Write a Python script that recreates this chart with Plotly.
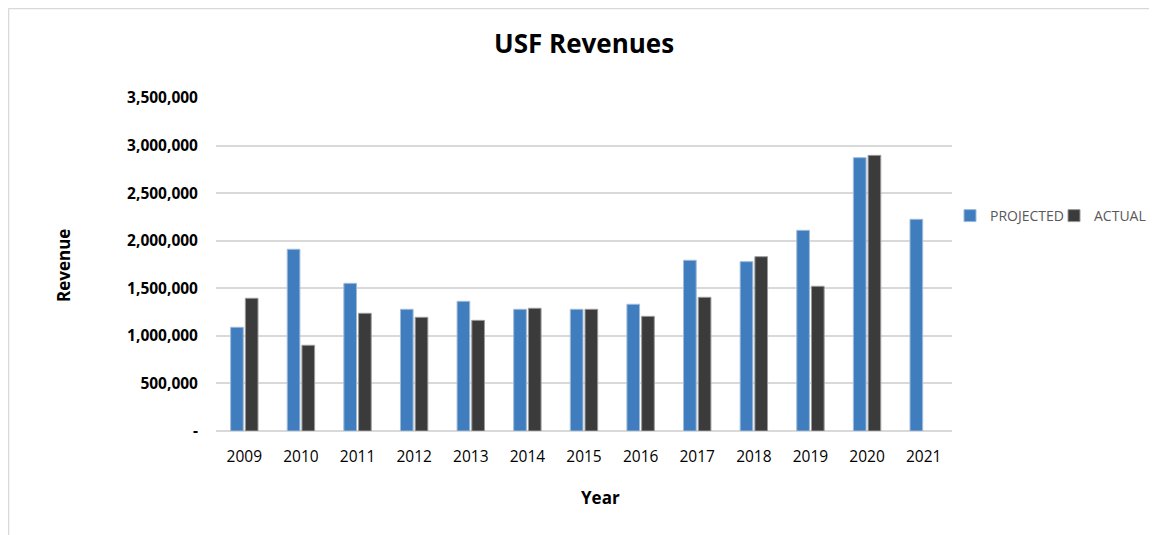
import plotly.graph_objects as go

years = ["2009", "2010", "2011", "2012", "2013", "2014", "2015", "2016", "2017", "2018", "2019", "2020", "2021"]
projected = [1090000, 1910000, 1552000, 1279000, 1363000, 1279000, 1279000, 1332000, 1794000, 1780000, 2109000, 2873000, 2225000]
actual = [1395000, 901000, 1237000, 1195000, 1163000, 1290000, 1279000, 1205000, 1405000, 1832000, 1521000, 2897000, None]

tick_vals = [0, 500000, 1000000, 1500000, 2000000, 2500000, 3000000, 3500000]
tick_text = ["-", "500,000", "1,000,000", "1,500,000", "2,000,000", "2,500,000", "3,000,000", "3,500,000"]

FONT = "Open Sans"

fig = go.Figure()
fig.add_trace(go.Bar(
    x=years, y=projected, name="PROJECTED",
    marker=dict(color="#3f7dbf", line=dict(color="#9fbbd8", width=1)),
))
fig.add_trace(go.Bar(
    x=years, y=actual, name="ACTUAL",
    marker=dict(color="#3b3b3b", line=dict(color="#9a9a9a", width=1)),
))

fig.update_layout(
    width=1149, height=527,
    margin=dict(l=208, r=205, t=90, b=104, autoexpand=False),
    paper_bgcolor="white", plot_bgcolor="white",
    barmode="group", bargap=0.48, bargroupgap=0.14,
    font=dict(family=FONT, color="#000000"),
    showlegend=True,
    legend=dict(orientation="h", x=0.9973, y=0.6456, xanchor="left", yanchor="middle",
                font=dict(size=14, color="#595959", family=FONT),
                itemwidth=30, entrywidth=59, entrywidthmode="pixels"),
    xaxis=dict(showgrid=False, showline=False, ticks="", tickfont=dict(size=15.5, color="#000000"),
               ticklabelstandoff=14),
    yaxis=dict(range=[0, 3500000], tickvals=tick_vals, ticktext=tick_text,
               showgrid=True, gridcolor="#d9d9d9", gridwidth=1.5,
               zeroline=True, zerolinecolor="#d9d9d9", zerolinewidth=1.5,
               tickfont=dict(size=15.5, color="#000000", family=FONT, weight="bold"),
               ticklabelstandoff=17),
    annotations=[
        dict(text="<b>USF Revenues</b>", xref="paper", yref="paper", x=0.5, y=1.165,
             showarrow=False, font=dict(size=26, color="#000000", family=FONT),
             xanchor="center", yanchor="middle"),
        dict(text="<b>Revenue</b>", xref="paper", yref="paper", x=-0.2065, y=0.4955,
             showarrow=False, textangle=-90, font=dict(size=17, color="#000000", family=FONT),
             xanchor="center", yanchor="middle"),
        dict(text="<b>Year</b>", xref="paper", yref="paper", x=0.523, y=-0.201,
             showarrow=False, font=dict(size=17, color="#000000", family=FONT),
             xanchor="center", yanchor="middle"),
    ],
    shapes=[
        dict(type="line", xref="paper", yref="paper", x0=-0.2819, x1=1.3, y0=1.2688, y1=1.2688,
             line=dict(color="#d9d9d9", width=1.5), layer="below"),
        dict(type="line", xref="paper", yref="paper", x0=-0.2819, x1=-0.2819, y0=-0.35, y1=1.2688,
             line=dict(color="#d9d9d9", width=1.5), layer="below"),
    ],
)

fig.write_html("out.html")
